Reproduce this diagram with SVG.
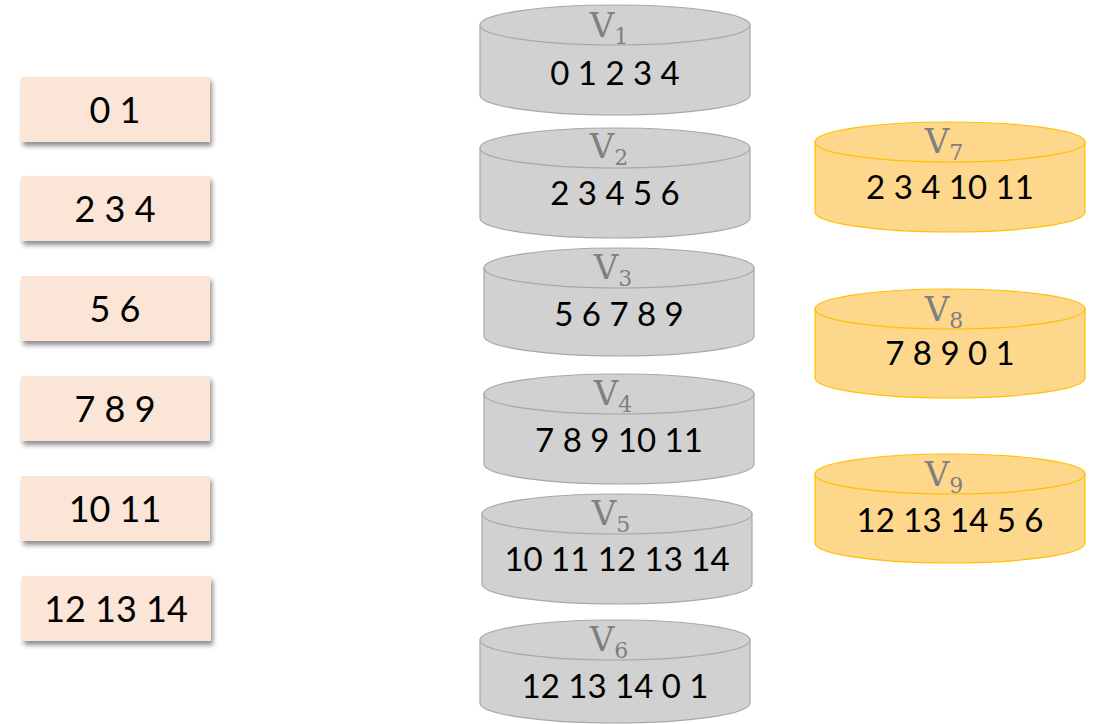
<svg xmlns="http://www.w3.org/2000/svg" width="1102" height="724" viewBox="0 0 1102 724">
  <defs>
    <filter id="shadow" x="-10%" y="-20%" width="125%" height="160%">
      <feGaussianBlur in="SourceAlpha" stdDeviation="2.5"/>
      <feOffset dx="2" dy="4" result="b"/>
      <feComponentTransfer><feFuncA type="linear" slope="0.45"/></feComponentTransfer>
      <feMerge><feMergeNode/><feMergeNode in="SourceGraphic"/></feMerge>
    </filter>
  </defs>
  <style>
    .box { fill: #fbe5d6; }
    .gray .body, .gray .top { fill: #d1d1d1; stroke: #a8a8a8; stroke-width: 1.2; }
    .gold .body, .gold .top { fill: #fdd78c; stroke: #ffc000; stroke-width: 1.2; }
    .num { font-family: Lato, "Open Sans", sans-serif; font-size: 33px; fill: #000; text-anchor: middle; }
    .box-num { font-size: 36px; }
    .lbl { font-family: "DejaVu Serif", "Liberation Serif", serif; font-size: 34px; fill: #7f7f7f; text-anchor: middle; }
    .lbl tspan { font-size: 22px; }
  </style>

  <!-- partition boxes -->
  <g id="box-0-1"><rect class="box" x="21" y="77" width="189" height="65" filter="url(#shadow)"/><text class="num box-num" x="115" y="123">0 1</text></g>
  <g id="box-2-4"><rect class="box" x="21" y="176" width="189" height="65" filter="url(#shadow)"/><text class="num box-num" x="115" y="222">2 3 4</text></g>
  <g id="box-5-6"><rect class="box" x="21" y="276" width="189" height="65" filter="url(#shadow)"/><text class="num box-num" x="115" y="322">5 6</text></g>
  <g id="box-7-9"><rect class="box" x="21" y="376" width="189" height="65" filter="url(#shadow)"/><text class="num box-num" x="115" y="422">7 8 9</text></g>
  <g id="box-10-11"><rect class="box" x="21" y="476" width="189" height="65" filter="url(#shadow)"/><text class="num box-num" x="115" y="522">10 11</text></g>
  <g id="box-12-14"><rect class="box" x="22" y="576" width="189" height="65" filter="url(#shadow)"/><text class="num box-num" x="116" y="622">12 13 14</text></g>

  <!-- gray cylinders: body path then top ellipse -->
  <g id="V1" class="gray">
    <path class="body" d="M480,25 V95 A135,20 0 0 0 750,95 V25 Z"/>
    <ellipse class="top" cx="615" cy="25" rx="135" ry="20"/>
    <text class="lbl" x="609" y="37">V<tspan dy="7">1</tspan></text>
    <text class="num" x="615" y="85">0 1 2 3 4</text>
  </g>
  <g id="V2" class="gray">
    <path class="body" d="M480,148 V218 A135,20 0 0 0 750,218 V148 Z"/>
    <ellipse class="top" cx="615" cy="148" rx="135" ry="20"/>
    <text class="lbl" x="609" y="158">V<tspan dy="7">2</tspan></text>
    <text class="num" x="615" y="205">2 3 4 5 6</text>
  </g>
  <g id="V3" class="gray">
    <path class="body" d="M484,268 V336 A135,20 0 0 0 754,336 V268 Z"/>
    <ellipse class="top" cx="619" cy="268" rx="135" ry="20"/>
    <text class="lbl" x="613" y="279">V<tspan dy="7">3</tspan></text>
    <text class="num" x="619" y="326">5 6 7 8 9</text>
  </g>
  <g id="V4" class="gray">
    <path class="body" d="M484,394 V464 A135,20 0 0 0 754,464 V394 Z"/>
    <ellipse class="top" cx="619" cy="394" rx="135" ry="20"/>
    <text class="lbl" x="613" y="405">V<tspan dy="7">4</tspan></text>
    <text class="num" x="619" y="452">7 8 9 10 11</text>
  </g>
  <g id="V5" class="gray">
    <path class="body" d="M482,514 V584 A135,20 0 0 0 752,584 V514 Z"/>
    <ellipse class="top" cx="617" cy="514" rx="135" ry="20"/>
    <text class="lbl" x="611" y="525">V<tspan dy="7">5</tspan></text>
    <text class="num" x="617" y="571">10 11 12 13 14</text>
  </g>
  <g id="V6" class="gray">
    <path class="body" d="M480,640 V703 A135,20 0 0 0 750,703 V640 Z"/>
    <ellipse class="top" cx="615" cy="640" rx="135" ry="20"/>
    <text class="lbl" x="609" y="651">V<tspan dy="7">6</tspan></text>
    <text class="num" x="615" y="698">12 13 14 0 1</text>
  </g>

  <!-- gold cylinders -->
  <g id="V7" class="gold">
    <path class="body" d="M815,142 V212 A135,20 0 0 0 1085,212 V142 Z"/>
    <ellipse class="top" cx="950" cy="142" rx="135" ry="20"/>
    <text class="lbl" x="944" y="153">V<tspan dy="7">7</tspan></text>
    <text class="num" x="950" y="199">2 3 4 10 11</text>
  </g>
  <g id="V8" class="gold">
    <path class="body" d="M815,309 V378 A135,20 0 0 0 1085,378 V309 Z"/>
    <ellipse class="top" cx="950" cy="309" rx="135" ry="20"/>
    <text class="lbl" x="944" y="321">V<tspan dy="7">8</tspan></text>
    <text class="num" x="950" y="365">7 8 9 0 1</text>
  </g>
  <g id="V9" class="gold">
    <path class="body" d="M815,474 V543 A135,20 0 0 0 1085,543 V474 Z"/>
    <ellipse class="top" cx="950" cy="474" rx="135" ry="20"/>
    <text class="lbl" x="944" y="486">V<tspan dy="7">9</tspan></text>
    <text class="num" x="950" y="532">12 13 14 5 6</text>
  </g>

  <g id="connectors"/>
</svg>
